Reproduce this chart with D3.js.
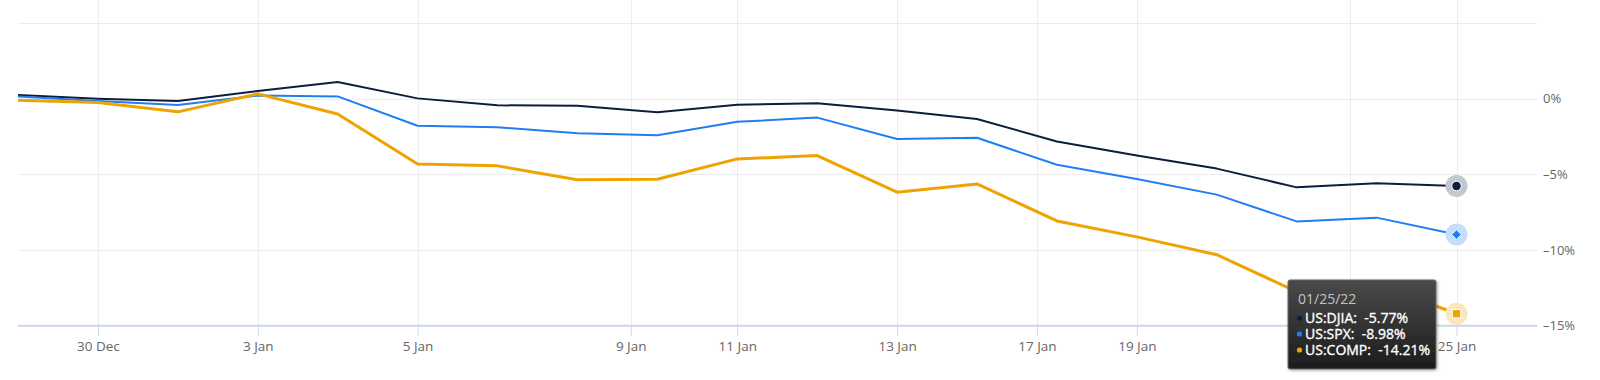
<!DOCTYPE html>
<html>
<head>
<meta charset="utf-8">
<script src="https://cdn.jsdelivr.net/npm/d3@7"></script>
<style>
  body { margin: 0; background: #fff; }
  svg { display: block; font-family: "Open Sans", sans-serif; }
</style>
</head>
<body>
<svg id="chart" width="1600" height="380"></svg>
<script>
// trading days, % change vs 28 Dec close
const dates = ["2021-12-29", "2021-12-30", "2021-12-31", "2022-01-03", "2022-01-04", "2022-01-05",
  "2022-01-06", "2022-01-07", "2022-01-10", "2022-01-11", "2022-01-12", "2022-01-13", "2022-01-14",
  "2022-01-18", "2022-01-19", "2022-01-20", "2022-01-21", "2022-01-24", "2022-01-25"];
const djia = [0.25, 0.00, -0.16, 0.51, 1.10, 0.02, -0.44, -0.46, -0.90, -0.40, -0.30, -0.78, -1.34,
  -2.83, -3.76, -4.62, -5.86, -5.59, -5.77];
const spx = [0.14, -0.16, -0.42, 0.21, 0.15, -1.79, -1.89, -2.28, -2.42, -1.53, -1.25, -2.66, -2.58,
  -4.37, -5.30, -6.34, -8.11, -7.86, -8.98];
const comp = [-0.10, -0.25, -0.87, 0.32, -1.01, -4.32, -4.44, -5.36, -5.32, -3.98, -3.76, -6.18, -5.63,
  -8.08, -9.13, -10.31, -12.75, -12.21, -14.21];
const tickDates = ["2021-12-30", "2022-01-03", "2022-01-05", "2022-01-09", "2022-01-11", "2022-01-13",
  "2022-01-17", "2022-01-19", "2022-01-23", "2022-01-25"];
const hiddenTick = "2022-01-23"; // label sits under the tooltip
const yTicks = [0, -5, -10, -15];
const gridTicks = [5, 0, -5, -10];
const tooltipDate = "01/25/22";

const series = [
  { name: "US:DJIA", values: djia, color: "#0c1e3e", halo: "#c2c8d0", width: 2, marker: "circle" },
  { name: "US:SPX", values: spx, color: "#1f7ef5", halo: "#c6defc", width: 2, marker: "diamond" },
  { name: "US:COMP", values: comp, color: "#efa300", halo: "#fbe7bd", width: 3, marker: "square" }
];

const left = 18, right = 1537;
const svg = d3.select("#chart");
const parse = d3.utcParse("%Y-%m-%d");
const times = dates.map(d => +parse(d));

// ordinal axis: equal spacing per trading day, calendar days interpolated between them
const idx = d3.scaleLinear().domain([0, dates.length - 1]).range([18, 1456.5]);
const x = d3.scaleLinear().domain(times).range(times.map((d, i) => idx(i)));
const y = d3.scaleLinear().domain([-15, 5]).range([325.7, 23]);

const pct = v => (v < 0 ? "\u2013" + Math.abs(v) : v) + "%";

// horizontal grid
svg.append("g").selectAll("line")
  .data(gridTicks)
  .join("line")
  .attr("x1", left).attr("x2", right)
  .attr("y1", d => Math.round(y(d)) + 0.5).attr("y2", d => Math.round(y(d)) + 0.5)
  .attr("stroke", "#ececec");

// vertical grid
const tickNums = tickDates.map(d => +parse(d));
svg.append("g").selectAll("line")
  .data(tickNums)
  .join("line")
  .attr("x1", d => Math.round(x(d)) + 0.5).attr("x2", d => Math.round(x(d)) + 0.5)
  .attr("y1", 0).attr("y2", y(-15))
  .attr("stroke", "#ececec");

// x axis
const hiddenNum = +parse(hiddenTick);
const xAxis = svg.append("g")
  .attr("transform", `translate(0,${y(-15)})`)
  .call(d3.axisBottom(x)
    .tickValues(tickNums)
    .tickSize(10)
    .tickPadding(6)
    .tickFormat(d => d === hiddenNum ? "" : d3.utcFormat("%-d %b")(new Date(d))));
xAxis.select(".domain").remove();
xAxis.selectAll(".tick line").attr("stroke", "#ccd6eb");
xAxis.selectAll(".tick text")
  .attr("fill", "#666").attr("font-size", 13.5).attr("font-family", "Open Sans, sans-serif");

svg.append("line")
  .attr("x1", left).attr("x2", right)
  .attr("y1", y(-15)).attr("y2", y(-15))
  .attr("stroke", "#ccd6eb").attr("stroke-width", 2);

// y axis labels on the right
const yAxis = svg.append("g")
  .attr("transform", `translate(${right},0)`)
  .call(d3.axisRight(y).tickValues(yTicks).tickSize(0).tickPadding(6).tickFormat(pct));
yAxis.select(".domain").remove();
yAxis.selectAll(".tick text")
  .attr("fill", "#666").attr("font-size", 13).attr("font-family", "Open Sans, sans-serif");

// lines
const line = d3.line().x((d, i) => x(times[i])).y(d => y(d));
svg.append("g").selectAll("path")
  .data(series)
  .join("path")
  .attr("d", s => line(s.values))
  .attr("fill", "none")
  .attr("stroke", s => s.color)
  .attr("stroke-width", s => s.width)
  .attr("stroke-linejoin", "round");

// hover markers on the last point
const last = times.length - 1;
const mk = svg.append("g");
series.forEach(s => {
  const cx = x(times[last]), cy = y(s.values[last]);
  mk.append("circle").attr("cx", cx).attr("cy", cy).attr("r", 11).attr("fill", s.halo);
  const sym = s.marker === "circle" ? d3.symbolCircle : s.marker === "diamond" ? d3.symbolDiamond2 : d3.symbolSquare;
  const size = s.marker === "diamond" ? 60 : 70;
  mk.append("path")
    .attr("transform", `translate(${cx},${cy})`)
    .attr("d", d3.symbol(sym, size))
    .attr("fill", s.color)
    .attr("stroke", "#fff").attr("stroke-width", 1);
});

// tooltip
const defs = svg.append("defs");
const grad = defs.append("linearGradient").attr("id", "tipGrad")
  .attr("x1", 0).attr("y1", 0).attr("x2", 0).attr("y2", 1);
grad.append("stop").attr("offset", "0%").attr("stop-color", "#4a4a4a");
grad.append("stop").attr("offset", "100%").attr("stop-color", "#1c1c1c");
const shadow = defs.append("filter").attr("id", "tipShadow")
  .attr("x", "-10%").attr("y", "-10%").attr("width", "130%").attr("height", "130%");
shadow.append("feDropShadow").attr("dx", 1).attr("dy", 1).attr("stdDeviation", 1.5)
  .attr("flood-color", "#000").attr("flood-opacity", 0.35);

const tip = svg.append("g").attr("transform", "translate(1288,280)");
tip.append("rect")
  .attr("width", 148).attr("height", 89).attr("rx", 2)
  .attr("fill", "url(#tipGrad)")
  .attr("stroke", "#6a6a6a").attr("stroke-width", 1)
  .attr("filter", "url(#tipShadow)");
tip.append("text")
  .attr("x", 10).attr("y", 23.5)
  .attr("fill", "#c4c4c4").attr("font-size", 14)
  .text(tooltipDate);
series.forEach((s, i) => {
  const ty = 42.5 + i * 16;
  tip.append("circle").attr("cx", 11.5).attr("cy", ty - 4.5).attr("r", 2.6).attr("fill", s.color);
  tip.append("text")
    .attr("x", 17).attr("y", ty)
    .attr("fill", "#fff").attr("font-size", 14)
    .attr("stroke", "#fff").attr("stroke-width", 0.35)
    .style("white-space", "pre")
    .text(`${s.name}:  ${s.values[last] < 0 ? "-" : ""}${Math.abs(s.values[last]).toFixed(2)}%`);
});
</script>
</body>
</html>
